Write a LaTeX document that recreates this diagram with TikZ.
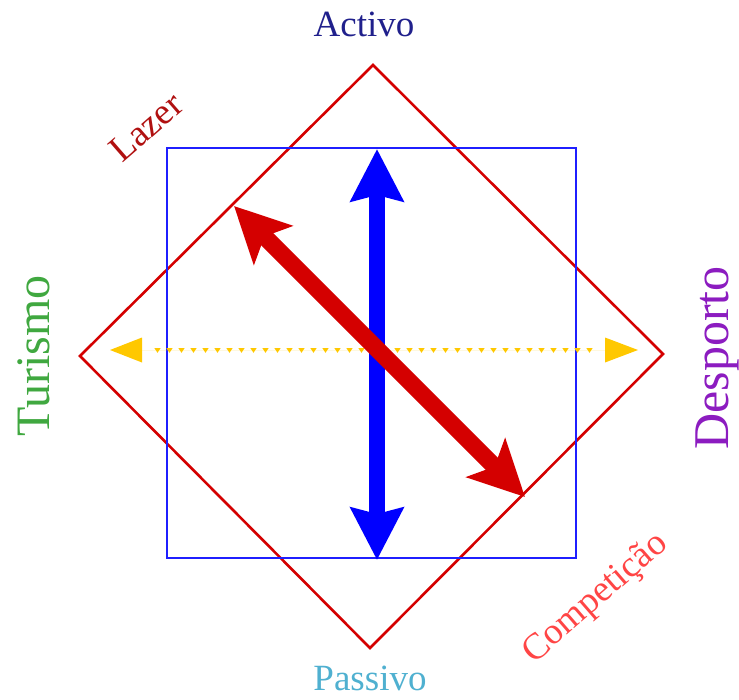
\documentclass[tikz,border=0pt]{standalone}
\usepackage{fontspec}
\setmainfont{Liberation Serif}
\usetikzlibrary{arrows.meta,decorations.markings}
\definecolor{diamondred}{HTML}{D40000}
\definecolor{sqblue}{HTML}{1F1FFF}
\definecolor{arrblue}{HTML}{0000FF}
\definecolor{arrred}{HTML}{D40000}
\definecolor{gold}{HTML}{FFC800}
\definecolor{cActivo}{HTML}{20208C}
\definecolor{cPassivo}{HTML}{4FB0D0}
\definecolor{cTurismo}{HTML}{40A840}
\definecolor{cDesporto}{HTML}{8C1CC0}
\definecolor{cLazer}{HTML}{B01010}
\definecolor{cCompet}{HTML}{FF4545}
\tikzset{
  lbl/.style={inner sep=0pt, font=\fontsize{37}{40}\selectfont},
  biglbl/.style={inner sep=0pt, font=\fontsize{48}{50}\selectfont, rotate=90},
  dotline/.style={postaction={decorate}, decoration={markings,
    mark=between positions 0.09 and 0.91 step 12pt with {\fill[gold] (-3.2pt,2pt)--(3.2pt,2pt)--(0pt,-2.8pt)--cycle;}}}
}
\begin{document}
\begin{tikzpicture}[x=1pt,y=-1pt]
\useasboundingbox (0,0) rectangle (739,699);
% diamond
\coordinate (dT) at (373,65);
\coordinate (dR) at (663,354);
\coordinate (dB) at (370,648);
\coordinate (dL) at (80,356);
\draw[diamondred, line width=2.6pt, line join=miter] (dT) -- (dR) -- (dB) -- (dL) -- cycle;
% square
\draw[sqblue, line width=1.4pt] (167,148) rectangle (576,558);
% yellow dotted arrow
\coordinate (yL) at (110,350);
\coordinate (yR) at (638,350);
\path[dotline] (yL) -- (yR);
\draw[gold, line width=0pt, draw opacity=0, fill=gold,
  {Triangle[length=32pt,width=25pt,fill=gold,color=gold]}-{Triangle[length=33pt,width=25pt,fill=gold,color=gold]}] (yL) -- (yR);
% blue arrow
\coordinate (bT) at (377,149);
\coordinate (bB) at (377,560);
\draw[arrblue, line width=16pt, {Stealth[length=52pt,width=52pt,inset=6pt]}-{Stealth[length=52pt,width=52pt,inset=6pt]}] (bT) -- (bB);
% red arrow
\coordinate (rT) at (234,206);
\coordinate (rB) at (525,497);
\draw[arrred, line width=17pt, {Stealth[length=55pt,width=54pt,inset=12pt]}-{Stealth[length=55pt,width=54pt,inset=12pt]}] (rT) -- (rB);
% labels
\node[lbl, text=cActivo] (activo) at (364,24) {Activo};
\node[lbl, text=cPassivo] (passivo) at (370,678) {Passivo};
\node[biglbl, text=cTurismo] (turismo) at (34,356) {Turismo};
\node[biglbl, text=cDesporto, font=\fontsize{50}{52}\selectfont] (desporto) at (717,358) {Desporto};
\node[lbl, text=cLazer, rotate=41] (lazer) at (146,127) {Lazer};
\node[lbl, text=cCompet, rotate=41] (compet) at (596,599) {Competição};
\end{tikzpicture}
\end{document}
